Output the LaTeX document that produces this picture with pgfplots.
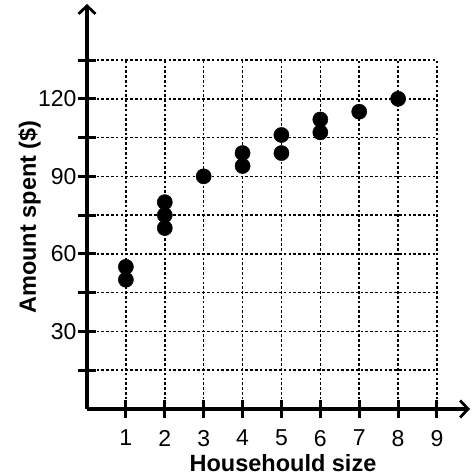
\documentclass[border=0pt]{standalone}
\usepackage{pgfplots}
\pgfplotsset{compat=1.18}
\usetikzlibrary{arrows.meta}
\usepackage{fontspec}
\setmainfont{Liberation Sans}

\begin{document}
\begin{tikzpicture}
\begin{axis}[
  at={(0,0)}, anchor=origin,
  scale only axis, width=350pt, height=349pt,
  xmin=0, xmax=9, ymin=0, ymax=135,
  axis lines=left,
  axis line style={line width=3.2pt, black},
  x axis line style={-{Straight Barb[length=8pt,width=17pt,line width=2.8pt]}, shorten >=-33pt},
  y axis line style={-{Straight Barb[length=8pt,width=17pt,line width=2.8pt]}, shorten >=-56pt},
  xtick={1,...,9},
  ytick={15,30,...,135},
  yticklabels={{},30,{},60,{},90,{},120,{}},
  tick align=center,
  major tick length=18pt,
  tick style={line width=3pt, black},
  grid=major,
  major grid style={black, line width=1.6pt, dash pattern=on 2.6pt off 2.2pt},
  tick label style={font=\fontsize{23}{26}\selectfont},
  xticklabel style={yshift=-8.5pt},
  yticklabel style={xshift=2pt},
  /pgf/number format/assume math mode=true,
  xlabel={Househould size},
  ylabel={Amount spent (\$)},
  every axis x label/.style={at={([yshift=-62pt]rel axis cs:0.56,0)}, anchor=base,
    font=\fontsize{23.5}{26}\selectfont\bfseries},
  every axis y label/.style={at={([xshift=-51pt]rel axis cs:0,0.55)}, anchor=base, rotate=90,
    font=\fontsize{23.5}{26}\selectfont\bfseries},
  clip=false,
]
\addplot[only marks, mark=*, mark size=7.6pt, black] coordinates {
  (1,55) (1,50)
  (2,80) (2,75) (2,70)
  (3,90)
  (4,99) (4,94)
  (5,106) (5,99)
  (6,112) (6,107)
  (7,115)
  (8,120)
};
\end{axis}
\pgfresetboundingbox
\useasboundingbox (-87pt,-66pt) rectangle (386pt,409pt);
\end{tikzpicture}
\end{document}
